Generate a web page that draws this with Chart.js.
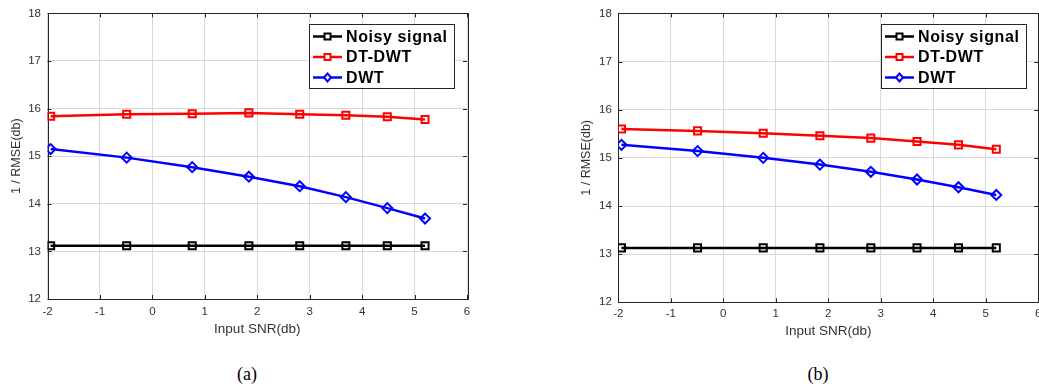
<!DOCTYPE html>
<html>
<head>
<meta charset="utf-8">
<script src="https://cdn.jsdelivr.net/npm/chart.js@4.4.1/dist/chart.umd.min.js"></script>
<style>
  html, body { margin: 0; padding: 0; background: #fff; }
  #wrap { position: relative; width: 1039px; height: 389px; overflow: hidden; }
  canvas { position: absolute; top: 0; }
  #chartA { left: 0; }
  #chartB { left: 520px; }
  .caption {
    position: absolute; top: 364px; line-height: 20px;
    font-family: 'Liberation Serif', 'Times New Roman', serif; font-size: 18px; color: #000;
    transform: translateX(-50%);
  }
</style>
</head>
<body>
<div id="wrap">
  <canvas id="chartA" width="520" height="345"></canvas>
  <canvas id="chartB" width="560" height="345"></canvas>
  <div class="caption" style="left:247px">(a)</div>
  <div class="caption" style="left:818px">(b)</div>
</div>
<script>
// x positions (input SNR, db)
const snrValues = [-1.94, -0.49, 0.76, 1.84, 2.81, 3.69, 4.48, 5.2];

// panel (a)
const noisyA = [13.12, 13.12, 13.12, 13.12, 13.12, 13.12, 13.12, 13.12];
const dtdwtA = [15.84, 15.88, 15.89, 15.91, 15.88, 15.86, 15.83, 15.77];
const dwtA = [15.15, 14.97, 14.77, 14.57, 14.37, 14.14, 13.91, 13.69];

// panel (b)
const noisyB = [13.13, 13.13, 13.13, 13.13, 13.13, 13.13, 13.13, 13.13];
const dtdwtB = [15.60, 15.56, 15.51, 15.46, 15.41, 15.34, 15.27, 15.18];
const dwtB = [15.27, 15.14, 15.00, 14.86, 14.71, 14.55, 14.39, 14.23];

const seriesLabels = ['Noisy signal', 'DT-DWT', 'DWT'];
const xTickValues = [-2, -1, 0, 1, 2, 3, 4, 5, 6];
const yTickValues = [12, 13, 14, 15, 16, 17, 18];

const FONT = '"Liberation Sans", Arial, sans-serif';
Chart.defaults.font.family = FONT;
Chart.defaults.color = '#262626';

function toPoints(values) {
  return snrValues.map((x, i) => ({ x, y: values[i] }));
}

// box round the plot plus small inward ticks, matlab style
const frameAndTicks = {
  id: 'frameAndTicks',
  beforeDatasetsDraw(chart) {
    const { ctx, chartArea: a, scales } = chart;
    ctx.save();
    ctx.strokeStyle = '#262626';
    ctx.lineWidth = 1;
    ctx.beginPath();
    xTickValues.forEach(v => {
      const px = Math.round(scales.x.getPixelForValue(v)) + 0.5;
      ctx.moveTo(px, a.bottom); ctx.lineTo(px, a.bottom - 4);
      ctx.moveTo(px, a.top); ctx.lineTo(px, a.top + 4);
    });
    yTickValues.forEach(v => {
      const py = Math.round(scales.y.getPixelForValue(v)) + 0.5;
      ctx.moveTo(a.left, py); ctx.lineTo(a.left + 4, py);
      ctx.moveTo(a.right, py); ctx.lineTo(a.right - 4, py);
    });
    ctx.stroke();
    ctx.strokeRect(Math.round(a.left) + 0.5, Math.round(a.top) + 0.5,
      Math.round(a.right - a.left), Math.round(a.bottom - a.top));
    ctx.restore();
  }
};

const boxLegend = {
  id: 'boxLegend',
  afterDatasetsDraw(chart, args, opts) {
    const { ctx, chartArea } = chart;
    const w = 145, h = 64;
    const x0 = Math.round(chartArea.right - opts.right - w);
    const y0 = Math.round(chartArea.top + opts.top);
    ctx.save();
    ctx.fillStyle = '#fff';
    ctx.fillRect(x0, y0, w, h);
    ctx.strokeStyle = '#262626';
    ctx.lineWidth = 1;
    ctx.strokeRect(x0 + 0.5, y0 + 0.5, w, h);
    chart.data.datasets.forEach((ds, i) => {
      const cy = y0 + 12.5 + i * 20.5;
      ctx.strokeStyle = ds.borderColor;
      ctx.lineWidth = 2.5;
      ctx.beginPath();
      ctx.moveTo(x0 + 4, cy); ctx.lineTo(x0 + 33, cy);
      ctx.stroke();
      const mx = x0 + 18.5;
      ctx.lineWidth = 2;
      ctx.beginPath();
      if (ds.pointStyle === 'rectRot') {
        ctx.moveTo(mx, cy - 4); ctx.lineTo(mx + 3.5, cy); ctx.lineTo(mx, cy + 4); ctx.lineTo(mx - 3.5, cy);
        ctx.closePath();
      } else {
        ctx.rect(mx - 3, cy - 3, 6, 6);
      }
      ctx.fillStyle = '#fff';
      ctx.fill();
      ctx.stroke();
      ctx.fillStyle = '#000';
      ctx.font = 'bold 16px ' + FONT;
      ctx.textBaseline = 'middle';
      if ('letterSpacing' in ctx) ctx.letterSpacing = '0.6px';
      ctx.fillText(ds.label, x0 + 37, cy + 1);
    });
    ctx.restore();
  }
};

function makeChart(id, noisy, dtdwt, dwt, g) {
  const colors = ['#000000', '#ff0000', '#0000ff'];
  const styles = ['rect', 'rect', 'rectRot'];
  const sets = [noisy, dtdwt, dwt].map((vals, i) => ({
    label: seriesLabels[i],
    data: toPoints(vals),
    borderColor: colors[i],
    backgroundColor: 'rgba(0,0,0,0)',
    borderWidth: 2.5,
    pointStyle: styles[i],
    pointRadius: 5,
    pointBorderWidth: 2,
    pointBorderColor: colors[i],
    pointBackgroundColor: 'rgba(0,0,0,0)',
    tension: 0
  }));

  return new Chart(document.getElementById(id), {
    type: 'line',
    data: { datasets: sets },
    options: {
      responsive: false,
      animation: false,
      layout: { padding: { left: 0, top: g.top, right: g.right, bottom: 0 } },
      plugins: {
        legend: { display: false },
        tooltip: { enabled: false },
        boxLegend: { right: g.legendRight, top: 11 }
      },
      scales: {
        x: {
          type: 'linear',
          min: -2, max: 6,
          afterBuildTicks: s => { s.ticks = xTickValues.map(v => ({ value: v })); },
          afterFit: s => { s.height = g.xHeight; },
          grid: { color: '#d9d9d9', drawTicks: false },
          border: { display: false },
          ticks: { padding: g.xTickPad, font: { size: 11.5 }, color: '#333' },
          title: { display: true, text: 'Input SNR(db)', font: { size: 13.5 }, color: '#333', padding: { top: 0, bottom: g.xTitlePad } }
        },
        y: {
          type: 'linear',
          min: 12, max: 18,
          afterBuildTicks: s => { s.ticks = yTickValues.map(v => ({ value: v })); },
          afterFit: s => { s.width = g.yWidth; },
          grid: { color: '#d9d9d9', drawTicks: false },
          border: { display: false },
          ticks: { padding: 6.5, font: { size: 11.5 }, color: '#333' },
          title: { display: true, text: '1 / RMSE(db)', font: { size: 12.5 }, color: '#333', padding: { top: g.yTitlePad, bottom: 0 } }
        }
      }
    },
    plugins: [frameAndTicks, boxLegend]
  });
}

makeChart('chartA', noisyA, dtdwtA, dwtA, {
  top: 13, right: 53, yWidth: 47.5, xHeight: 46, xTickPad: 6, xTitlePad: 8, yTitlePad: 9, legendRight: 13
});
makeChart('chartB', noisyB, dtdwtB, dwtB, {
  top: 13.3, right: 41.7, yWidth: 98.3, xHeight: 42.7, xTickPad: 5, xTitlePad: 6, yTitlePad: 59.5, legendRight: 12.6
});
</script>
</body>
</html>
